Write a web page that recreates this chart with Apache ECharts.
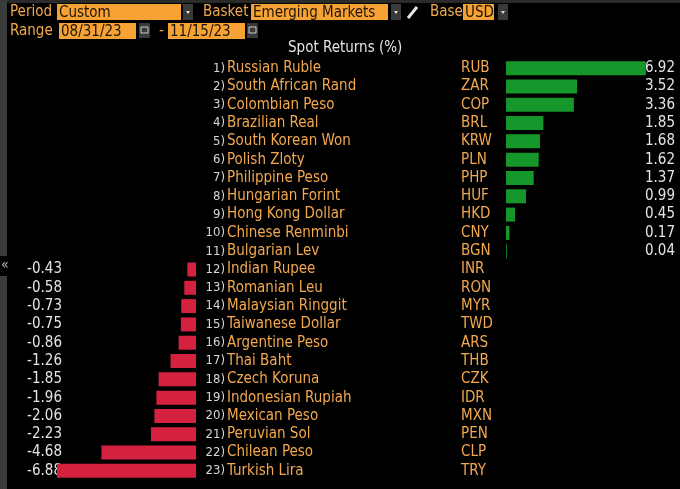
<!DOCTYPE html>
<html>
<head>
<meta charset="utf-8">
<script src="https://cdn.jsdelivr.net/npm/echarts@6/dist/echarts.min.js"></script>
<style>
  html, body { margin: 0; padding: 0; background: #000; }
  #chart-main { width: 680px; height: 489px; }
</style>
</head>
<body>
<div id="chart-main"></div>
<script>
// Spot returns, EM currencies vs USD, 08/31/23 - 11/15/23
const names = ['Russian Ruble', 'South African Rand', 'Colombian Peso', 'Brazilian Real',
  'South Korean Won', 'Polish Zloty', 'Philippine Peso', 'Hungarian Forint', 'Hong Kong Dollar',
  'Chinese Renminbi', 'Bulgarian Lev', 'Indian Rupee', 'Romanian Leu', 'Malaysian Ringgit',
  'Taiwanese Dollar', 'Argentine Peso', 'Thai Baht', 'Czech Koruna', 'Indonesian Rupiah',
  'Mexican Peso', 'Peruvian Sol', 'Chilean Peso', 'Turkish Lira'];
const codes = ['RUB', 'ZAR', 'COP', 'BRL', 'KRW', 'PLN', 'PHP', 'HUF', 'HKD', 'CNY', 'BGN',
  'INR', 'RON', 'MYR', 'TWD', 'ARS', 'THB', 'CZK', 'IDR', 'MXN', 'PEN', 'CLP', 'TRY'];
const returns = [6.92, 3.52, 3.36, 1.85, 1.68, 1.62, 1.37, 0.99, 0.45, 0.17, 0.04,
  -0.43, -0.58, -0.73, -0.75, -0.86, -1.26, -1.85, -1.96, -2.06, -2.23, -4.68, -6.88];

const colors = {
  orange: '#f2a84e',
  field: '#f7a234',
  fieldText: '#1e1408',
  white: '#e4e4e4',
  green: '#16972b',
  red: '#d3213f',
  box: '#3a3a3a'
};
const FONT = '"Liberation Sans Narrow", "DejaVu Sans Condensed", sans-serif';

// header widgets: label / field / dropdown arrow
function label(x, y, text) {
  return { type: 'text', left: x, top: y, style: { text: text, fill: colors.orange, font: '15px ' + FONT } };
}
function field(x, y, w, text) {
  return [
    { type: 'rect', shape: { x: x, y: y, width: w, height: 16 }, style: { fill: colors.field } },
    { type: 'text', left: x + 2, top: y + 2, style: { text: text, fill: colors.fieldText, font: '15px ' + FONT } }
  ];
}
function arrowBox(x, y) {
  return [
    { type: 'rect', shape: { x: x, y: y, width: 10, height: 16 }, style: { fill: colors.box } },
    { type: 'polygon', shape: { points: [[x + 3, y + 7], [x + 7, y + 7], [x + 5, y + 10]] }, style: { fill: '#ddd' } }
  ];
}
function calBox(x, y) {
  return [
    { type: 'rect', shape: { x: x, y: y, width: 11, height: 15 }, style: { fill: colors.box } },
    { type: 'rect', shape: { x: x + 2, y: y + 4, width: 7, height: 6 }, style: { fill: 'none', stroke: '#ccc', lineWidth: 1 } }
  ];
}

const headerGraphics = [].concat(
  [{ type: 'rect', shape: { x: 0, y: 0, width: 680, height: 3 }, style: { fill: '#2a2a2a' } }],
  [{ type: 'rect', shape: { x: 0, y: 0, width: 7, height: 489 }, style: { fill: '#3b3b3b' } }],
  [{ type: 'rect', shape: { x: 0, y: 256, width: 7, height: 20 }, style: { fill: '#000' } }],
  [{ type: 'text', left: 1, top: 258, style: { text: '«', fill: '#bbb', font: '14px ' + FONT } }],
  [label(10, 5, 'Period')], field(57, 4, 124, 'Custom'), arrowBox(183, 4),
  [label(203, 5, 'Basket')], field(251, 4, 137, 'Emerging Markets'), arrowBox(391, 4),
  [{ type: 'polyline', shape: { points: [[408, 18], [417, 7]] }, style: { stroke: '#e6e6e6', lineWidth: 3 } }],
  [label(430, 5, 'Base')], field(463, 4, 31, 'USD'), arrowBox(498, 4),
  [label(10, 24, 'Range')], field(59, 23, 77, '08/31/23'), calBox(139, 23),
  [{ type: 'text', left: 159, top: 24, style: { text: '-', fill: colors.orange, font: '15px ' + FONT } }],
  field(168, 23, 77, '11/15/23'), calBox(247, 23),
  [{ type: 'text', left: 288, top: 41, style: { text: 'Spot Returns (%)', fill: colors.white, font: '15px ' + FONT } }]
);

const gridTop = 59, gridBottom = 9;
const scale = 20.2;           // px per percentage point
const zeroLeft = 196, zeroRight = 506;
const span = 7;

const baseY = {
  type: 'category', data: names, inverse: true,
  axisLine: { show: false }, axisTick: { show: false }, splitLine: { show: false }
};
const lbl = (extra) => Object.assign({ interval: 0, fontFamily: FONT, fontSize: 15 }, extra);

const chart = echarts.init(document.getElementById('chart-main'));
chart.setOption({
  backgroundColor: '#000',
  animation: false,
  graphic: headerGraphics,
  grid: [
    { left: zeroLeft - span * scale, right: 680 - zeroLeft, top: gridTop, bottom: gridBottom },
    { left: zeroRight, right: 680 - (zeroRight + span * scale), top: gridTop, bottom: gridBottom }
  ],
  xAxis: [
    { gridIndex: 0, type: 'value', min: -span, max: 0, show: false },
    { gridIndex: 1, type: 'value', min: 0, max: span, show: false }
  ],
  yAxis: [
    // rank numbers
    Object.assign({}, baseY, { gridIndex: 0, position: 'right',
      axisLabel: lbl({ align: 'right', margin: 29, color: '#d6d6d6', fontSize: 13,
        formatter: (v, i) => (i + 1) + ')' }) }),
    // negative values
    Object.assign({}, baseY, { gridIndex: 0, position: 'left',
      axisLabel: lbl({ align: 'right', margin: (zeroLeft - span * scale) - 62, color: colors.white,
        formatter: (v, i) => returns[i] < 0 ? returns[i].toFixed(2) : '' }) }),
    // currency names
    Object.assign({}, baseY, { gridIndex: 1, position: 'left',
      axisLabel: lbl({ align: 'left', margin: zeroRight - 227, color: colors.orange }) }),
    // currency codes
    Object.assign({}, baseY, { gridIndex: 1, position: 'left',
      axisLabel: lbl({ align: 'left', margin: zeroRight - 461, color: colors.orange,
        formatter: (v, i) => codes[i] }) }),
    // positive values
    Object.assign({}, baseY, { gridIndex: 1, position: 'right',
      axisLabel: lbl({ align: 'right', margin: 675 - (zeroRight + span * scale), color: colors.white,
        formatter: (v, i) => returns[i] >= 0 ? returns[i].toFixed(2) : '' }) })
  ],
  series: [
    {
      type: 'bar', xAxisIndex: 0, yAxisIndex: 0, barWidth: 14,
      itemStyle: { color: colors.red },
      data: returns.map(v => v < 0 ? v : '-')
    },
    {
      type: 'bar', xAxisIndex: 1, yAxisIndex: 2, barWidth: 14,
      itemStyle: { color: colors.green },
      data: returns.map(v => v >= 0 ? v : '-')
    }
  ]
});
</script>
</body>
</html>
